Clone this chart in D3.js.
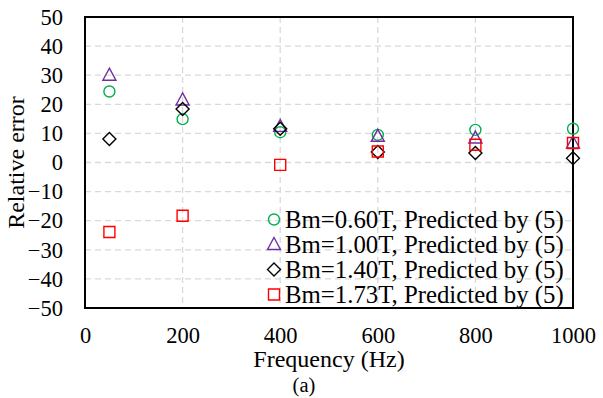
<!DOCTYPE html>
<html>
<head>
<meta charset="utf-8">
<script src="https://d3js.org/d3.v7.min.js"></script>
<style>
body { margin: 0; background: #fff; }
svg text { font-family: "Liberation Serif", "Times New Roman", serif; fill: #000; }
</style>
</head>
<body>
<svg id="chart"></svg>
<script>
// data
var freqs = [50, 200, 400, 600, 800, 1000];
var err060 = [24.4, 14.9, 10.4, 9.5, 11.2, 11.6];
var err100 = [30.0, 21.5, 12.4, 9.0, 8.4, 6.7];
var err140 = [8.1, 18.4, 11.6, 3.6, 3.3, 1.5];
var err173 = [-23.9, -18.3, -0.8, 3.8, 6.1, 6.7];
var seriesNames = ["Bm=0.60T, Predicted by (5)", "Bm=1.00T, Predicted by (5)",
                   "Bm=1.40T, Predicted by (5)", "Bm=1.73T, Predicted by (5)"];
var xTicks = [0, 200, 400, 600, 800, 1000];
var yTicks = [-50, -40, -30, -20, -10, 0, 10, 20, 30, 40, 50];

var width = 603, height = 398;
var mLeft = 85, mRight = 573, mTop = 17, mBottom = 308;

var series = [
  { name: seriesNames[0], values: err060, color: "#00b050", shape: "circle" },
  { name: seriesNames[1], values: err100, color: "#7030a0", shape: "triangle" },
  { name: seriesNames[2], values: err140, color: "#000000", shape: "diamond" },
  { name: seriesNames[3], values: err173, color: "#ff0000", shape: "square" }
];

var svg = d3.select("#chart").attr("width", width).attr("height", height);

var x = d3.scaleLinear().domain([0, 1000]).range([mLeft, mRight]);
var y = d3.scaleLinear().domain([-50, 50]).range([mBottom, mTop]);

// dashed grid
svg.append("g").selectAll("line").data(yTicks.slice(1, -1)).enter().append("line")
  .attr("x1", mLeft).attr("x2", mRight)
  .attr("y1", function (d) { return y(d); }).attr("y2", function (d) { return y(d); })
  .attr("stroke", "#d9d9d9").attr("stroke-width", 1.3).attr("stroke-dasharray", "6,4");
svg.append("g").selectAll("line").data(xTicks.slice(1, -1)).enter().append("line")
  .attr("y1", mTop).attr("y2", mBottom)
  .attr("x1", function (d) { return x(d); }).attr("x2", function (d) { return x(d); })
  .attr("stroke", "#d9d9d9").attr("stroke-width", 1.3).attr("stroke-dasharray", "6,4");

// axes (labels only, frame drawn below)
var yAxis = svg.append("g").attr("transform", "translate(" + mLeft + ",0)")
  .call(d3.axisLeft(y).tickValues(yTicks).tickSize(0).tickPadding(22).tickFormat(d3.format("d")));
var xAxis = svg.append("g").attr("transform", "translate(0," + mBottom + ")")
  .call(d3.axisBottom(x).tickValues(xTicks).tickSize(0).tickPadding(19).tickFormat(d3.format("d")));
[yAxis, xAxis].forEach(function (a) {
  a.select(".domain").remove();
  a.attr("font-family", null).attr("font-size", null);
  a.selectAll("text").style("font-size", "22.5px");
});

// frame
svg.append("rect").attr("x", mLeft).attr("y", mTop)
  .attr("width", mRight - mLeft).attr("height", mBottom - mTop)
  .attr("fill", "none").attr("stroke", "#000").attr("stroke-width", 2);

function markerPath(shape) {
  if (shape === "triangle") return "M0,-7L6.5,5L-6.5,5Z";
  if (shape === "diamond") return "M0,-6.5L6.5,0L0,6.5L-6.5,0Z";
  if (shape === "square") return "M-5.5,-5.5H5.5V5.5H-5.5Z";
  return d3.symbol().type(d3.symbolCircle).size(Math.PI * 5.5 * 5.5)();
}

series.forEach(function (s) {
  svg.append("g").selectAll("path").data(s.values).enter().append("path")
    .attr("d", markerPath(s.shape))
    .attr("transform", function (d, i) { return "translate(" + x(freqs[i]) + "," + y(d) + ")"; })
    .attr("fill", "none").attr("stroke", s.color).attr("stroke-width", 1.4);
});

// legend
var legend = svg.append("g");
series.forEach(function (s, i) {
  var ly = 219.5 + i * 25;
  legend.append("path").attr("d", markerPath(s.shape))
    .attr("transform", "translate(274," + ly + ")")
    .attr("fill", "none").attr("stroke", s.color).attr("stroke-width", 1.4);
  legend.append("text").attr("x", 285).attr("y", ly).attr("dy", "0.35em")
    .style("font-size", "24.8px").text(s.name);
});

// axis titles
svg.append("text").attr("x", (mLeft + mRight) / 2).attr("y", 367)
  .attr("text-anchor", "middle").style("font-size", "24px").text("Frequency (Hz)");
svg.append("text").attr("transform", "translate(24," + (mTop + mBottom) / 2 + ")rotate(-90)")
  .attr("text-anchor", "middle").style("font-size", "24px").text("Relative  error");
svg.append("text").attr("x", 304).attr("y", 392)
  .attr("text-anchor", "middle").style("font-size", "20.5px").text("(a)");
</script>
</body>
</html>
